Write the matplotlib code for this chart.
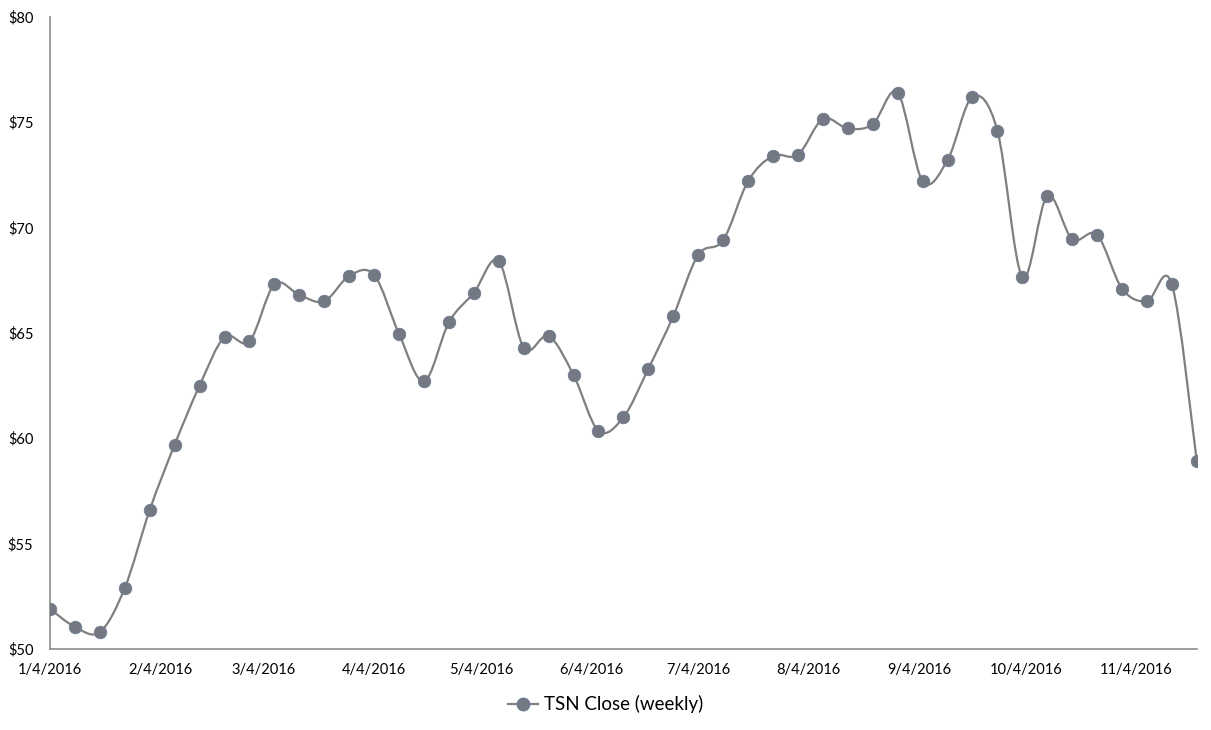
import matplotlib
matplotlib.use("Agg")
import matplotlib.pyplot as plt
import matplotlib.dates as mdates
from matplotlib.path import Path
from matplotlib.patches import PathPatch
from matplotlib.lines import Line2D
import numpy as np
import pandas as pd

plt.rcParams['font.family'] = ['Lato', 'DejaVu Sans']

# weekly close prices, starting 1/4/2016
start = "2016-01-04"
close = [51.9, 51.05, 50.8, 52.9, 56.6, 59.7, 62.5, 64.8, 64.6, 67.3,
         66.8, 66.5, 67.7, 67.75, 64.95, 62.7, 65.5, 66.9, 68.4, 64.3,
         64.85, 63.0, 60.35, 61.0, 63.3, 65.8, 68.7, 69.4, 72.2, 73.4,
         73.45, 75.15, 74.7, 74.9, 76.4, 72.2, 73.2, 76.2, 74.6, 67.65,
         71.5, 69.45, 69.65, 67.1, 66.5, 67.3, 58.9]
dates = pd.date_range(start, periods=len(close), freq="7D")

line_color = "#7f7f7f"
marker_color = "#737882"

fig = plt.figure(figsize=(12.11, 7.30), dpi=100)
ax = fig.add_axes([0.0413, 0.111, 0.947, 0.866])

# smoothed line (Catmull-Rom as cubic bezier segments)
x = mdates.date2num(dates)
y = np.array(close)
verts = [(x[0], y[0])]
codes = [Path.MOVETO]
n = len(x)
for i in range(n - 1):
    p0 = (x[max(i - 1, 0)], y[max(i - 1, 0)])
    p1 = (x[i], y[i])
    p2 = (x[i + 1], y[i + 1])
    p3 = (x[min(i + 2, n - 1)], y[min(i + 2, n - 1)])
    c1 = (p1[0] + (p2[0] - p0[0]) / 6, p1[1] + (p2[1] - p0[1]) / 6)
    c2 = (p2[0] - (p3[0] - p1[0]) / 6, p2[1] - (p3[1] - p1[1]) / 6)
    verts += [c1, c2, p2]
    codes += [Path.CURVE4] * 3
ax.add_patch(PathPatch(Path(verts, codes), fill=False, edgecolor=line_color,
                       lw=1.6, zorder=2))
ax.plot(dates, close, ls="none", marker="o", ms=9, color=marker_color,
        mec="#6f7c92", mew=0.6, zorder=3)

ax.set_xlim(dates[0], dates[-1])
ax.set_ylim(50, 80)
ax.set_yticks(range(50, 81, 5))
ax.set_yticklabels(["$%d" % v for v in range(50, 81, 5)])
ax.xaxis.set_major_locator(mdates.MonthLocator(bymonthday=4))
ax.xaxis.set_major_formatter(
    plt.FuncFormatter(lambda v, p: "%d/%d/%d" % (mdates.num2date(v).month,
                                                 mdates.num2date(v).day,
                                                 mdates.num2date(v).year)))
ax.tick_params(length=0, labelsize=10.5, pad=10)
ax.tick_params(axis="y", pad=12)
for s in ["top", "right"]:
    ax.spines[s].set_visible(False)
for s in ["left", "bottom"]:
    ax.spines[s].set_color("#8c8c8c")
    ax.spines[s].set_linewidth(1.2)

handle = Line2D([], [], color=line_color, lw=1.6, marker="o", ms=9,
                mfc=marker_color, mec="#6f7c92")
fig.legend([handle], ["TSN Close (weekly)"], loc="center",
           bbox_to_anchor=(0.5, 0.035), frameon=False, fontsize=13.5,
           handlelength=1.6, handletextpad=0.3)

fig.savefig("out.png", dpi=100)
